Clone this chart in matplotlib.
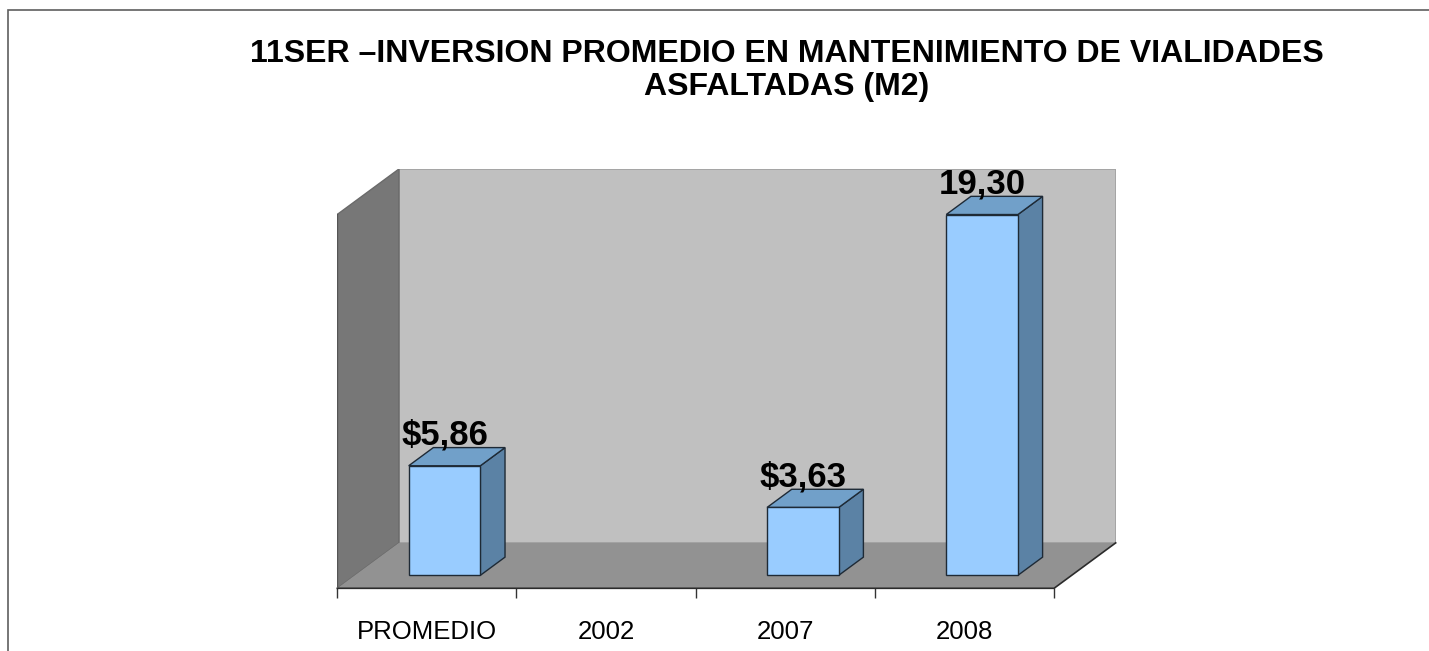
import matplotlib
matplotlib.use("Agg")
import matplotlib.pyplot as plt
from matplotlib.patches import Polygon, Rectangle
import numpy as np

# ---- data ----
categories = ["PROMEDIO", "2002", "2007", "2008"]
values = [5.86, None, 3.63, 19.30]
value_labels = ["$5,86", "", "$3,63", "19,30"]
title_text = "11SER \u2013INVERSION PROMEDIO EN MANTENIMIENTO DE VIALIDADES\nASFALTADAS (M2)"
y_max = 20

plt.rcParams['font.family'] = ['Liberation Sans', 'DejaVu Sans']

W, H = 1429, 651
fig = plt.figure(figsize=(W / 100, H / 100), dpi=100)
fig.patch.set_facecolor("white")

# 3D look parameters (style)
DX, DY = 0.344, 2.43     # depth of floor/walls in data units
F0, BD = 0.286, 0.40     # bar front depth fraction, bar depth fraction
BW = 0.40                # bar width

ax = fig.add_axes([337.3 / W, (H - 588.3) / H, (1115.7 - 337.3) / W, (588.3 - 169) / H])
n = len(categories)
ax.set_xlim(-0.5, n - 0.5 + DX)
ax.set_ylim(0, y_max + DY)
ax.set_facecolor("none")
for s in ax.spines.values():
    s.set_visible(False)
ax.yaxis.set_visible(False)

# walls and floor
back = Rectangle((-0.5 + DX, DY), n, y_max, facecolor="#c0c0c0",
                 edgecolor="#a3a3a3", linewidth=1.3, zorder=1)
ax.add_patch(back)
left = Polygon([(-0.5, 0), (-0.5 + DX, DY), (-0.5 + DX, y_max + DY), (-0.5, y_max)],
               closed=True, facecolor="#777777", edgecolor="#6a6a6a", linewidth=1.0, zorder=2)
ax.add_patch(left)
floor = Polygon([(-0.5, 0), (n - 0.5, 0), (n - 0.5 + DX, DY), (-0.5 + DX, DY)],
                closed=True, facecolor="#929292", edgecolor="none", zorder=2)
ax.add_patch(floor)
ax.plot([-0.5, n - 0.5, n - 0.5 + DX], [0, 0, DY], color="#2b2b2b", linewidth=1.2,
        zorder=3, clip_on=False)
ax.plot([-0.5, -0.5], [0, y_max], color="#555555", linewidth=1.0, zorder=3)

# bars
edge = "#1e2a36"
for i, (v, lab) in enumerate(zip(values, value_labels)):
    if v is None:
        continue
    x0 = i - BW / 2 + F0 * DX
    x1 = x0 + BW
    b = F0 * DY
    t = b + v
    ddx, ddy = BD * DX, BD * DY
    ax.add_patch(Polygon([(x1, b), (x1 + ddx, b + ddy), (x1 + ddx, t + ddy), (x1, t)],
                         closed=True, facecolor="#5b82a5", edgecolor=edge, linewidth=1.0, zorder=5))
    ax.add_patch(Polygon([(x0, t), (x1, t), (x1 + ddx, t + ddy), (x0 + ddx, t + ddy)],
                         closed=True, facecolor="#71a0c9", edgecolor=edge, linewidth=1.0, zorder=5))
    ax.add_patch(Rectangle((x0, b), BW, v, facecolor="#99ccff", edgecolor=edge,
                           linewidth=1.0, zorder=6))
    ax.annotate(lab, xy=(x0 + BW / 2, t + ddy), xytext=(0, 2), textcoords="offset points",
                ha="center", va="baseline", fontsize=25, fontweight="bold",
                color="black", zorder=8, annotation_clip=False)

# x axis ticks and labels
ax.set_xticks(np.arange(n + 1) - 0.5)
ax.set_xticklabels([""] * (n + 1))
ax.set_xticks(np.arange(n), minor=True)
ax.set_xticklabels(categories, minor=True, fontsize=18.5)
ax.tick_params(axis="x", which="major", length=7.5, width=1.0, color="#333333", direction="out")
ax.tick_params(axis="x", which="minor", length=0, pad=22.5)

# title
fig.text(787 / W, 1 - 39 / H, title_text, ha="center", va="top", fontsize=23,
         fontweight="bold", linespacing=1.15)

# outer frame
fig.patches.append(Rectangle((7.5 / W, -0.2), 1.5, 1.2 - 9.5 / H, transform=fig.transFigure,
                             fill=False, edgecolor="#5f5f5f", linewidth=1.2, figure=fig))

fig.savefig("out.png", dpi=100)
